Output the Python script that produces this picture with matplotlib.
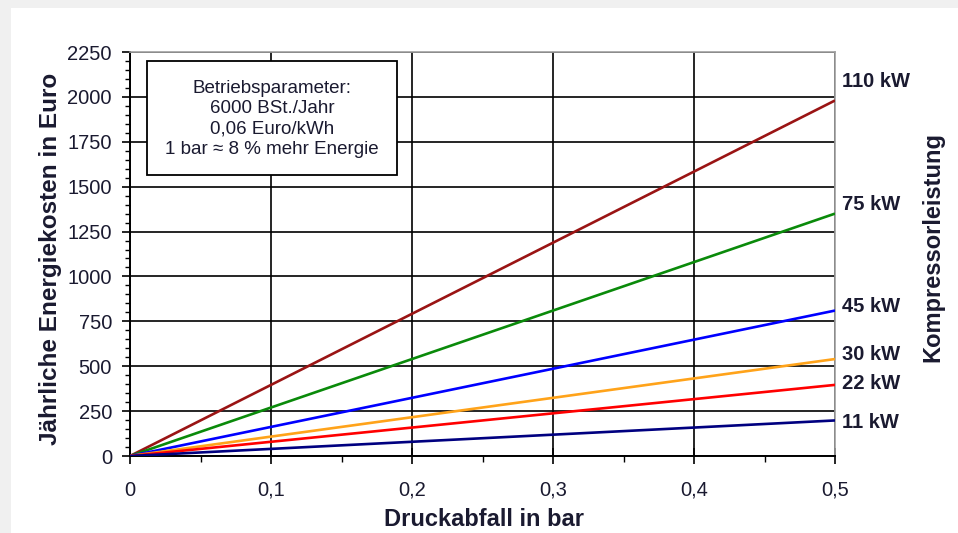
import matplotlib.pyplot as plt
from matplotlib.patches import Rectangle
from matplotlib.ticker import MultipleLocator, FixedLocator

plt.rcParams['font.family'] = ['Liberation Sans', 'DejaVu Sans']

# Druckabfall in bar (Anfang / Ende der Geraden)
druck = [0.0, 0.5]
leistung = ['110 kW', '75 kW', '45 kW', '30 kW', '22 kW', '11 kW']
kosten_ende = [1980, 1350, 810, 540, 396, 198]
farben = ['#9a1414', '#0a8a0a', '#0000ff', '#ffa31a', '#ff0000', '#000080']
label_y = [2083, 1403, 830, 568, 401, 185]

x_ticks = [0, 0.1, 0.2, 0.3, 0.4, 0.5]
x_ticklabels = ['0', '0,1', '0,2', '0,3', '0,4', '0,5']
y_ticks = [0, 250, 500, 750, 1000, 1250, 1500, 1750, 2000, 2250]

W, H = 958, 533
fig = plt.figure(figsize=(W / 100, H / 100), dpi=100)
fig.patch.set_facecolor('#f0f0f0')
bg = Rectangle((11 / W, 0), 1 - 11 / W, 1 - 8 / H, transform=fig.transFigure,
               facecolor='white', edgecolor='none', zorder=-5)
fig.add_artist(bg)

ax = fig.add_axes([130 / W, 1 - 456 / H, (835 - 130) / W, (456 - 52) / H])
ax.set_facecolor('white')

for name, v, c, ly in zip(leistung, kosten_ende, farben, label_y):
    ax.plot(druck, [0, v], color=c, lw=1.9, zorder=3, solid_capstyle='butt')
    ax.text(0.505, ly, name, fontsize=14.5, fontweight='bold', color='#1a1a30',
            ha='left', va='center', transform=ax.transData, clip_on=False)

ax.set_xlim(0, 0.5)
ax.set_ylim(0, 2250)
ax.xaxis.set_major_locator(FixedLocator(x_ticks))
ax.set_xticklabels(x_ticklabels)
ax.xaxis.set_minor_locator(MultipleLocator(0.05))
ax.yaxis.set_major_locator(FixedLocator(y_ticks))
ax.yaxis.set_minor_locator(MultipleLocator(50))

ax.grid(True, which='major', color='black', lw=1.2, zorder=1)
ax.set_axisbelow(True)

for s in ['top', 'right']:
    ax.spines[s].set_color('#a0a0a0')
    ax.spines[s].set_linewidth(1.2)
for s in ['left', 'bottom']:
    ax.spines[s].set_color('black')
    ax.spines[s].set_linewidth(1.4)

ax.tick_params(axis='y', which='major', direction='out', length=6, width=1.2,
               labelsize=14.5, pad=7, labelcolor='#1a1a30')
ax.tick_params(axis='y', which='minor', direction='out', length=3.5, width=1.0)
ax.tick_params(axis='x', which='major', direction='inout', length=12, width=1.2,
               labelsize=14.5, pad=12, labelcolor='#1a1a30')
ax.tick_params(axis='x', which='minor', direction='out', length=4, width=1.0)

# Achsentitel
fig.text(484 / W, 1 - 520 / H, 'Druckabfall in bar', fontsize=17, fontweight='bold',
         color='#1a1a30', ha='center', va='center')
fig.text(51 / W, 1 - 259 / H, 'Jährliche Energiekosten in Euro', rotation=90,
         fontsize=17.5, fontweight='bold', color='#1a1a30', ha='center', va='center')
fig.text(933 / W, 1 - 247 / H, 'Kompressorleistung', rotation=90, fontsize=17,
         fontweight='bold', color='#1a1a30', ha='center', va='center')

# Kasten mit Betriebsparametern
box = Rectangle(((147 - 130) / 705, (456 - 175) / 404), 250 / 705, 114 / 404,
                transform=ax.transAxes, facecolor='white', edgecolor='black',
                lw=1.3, zorder=4)
ax.add_patch(box)
ax.text((272 - 130) / 705, (456 - 119) / 404,
        'Betriebsparameter:\n6000 BSt./Jahr\n0,06 Euro/kWh\n1 bar ≈ 8 % mehr Energie',
        fontsize=13.5, color='#1a1a30', ha='center', va='center', linespacing=1.28,
        zorder=5, transform=ax.transAxes)

fig.savefig('out.png', dpi=100, facecolor=fig.get_facecolor())
